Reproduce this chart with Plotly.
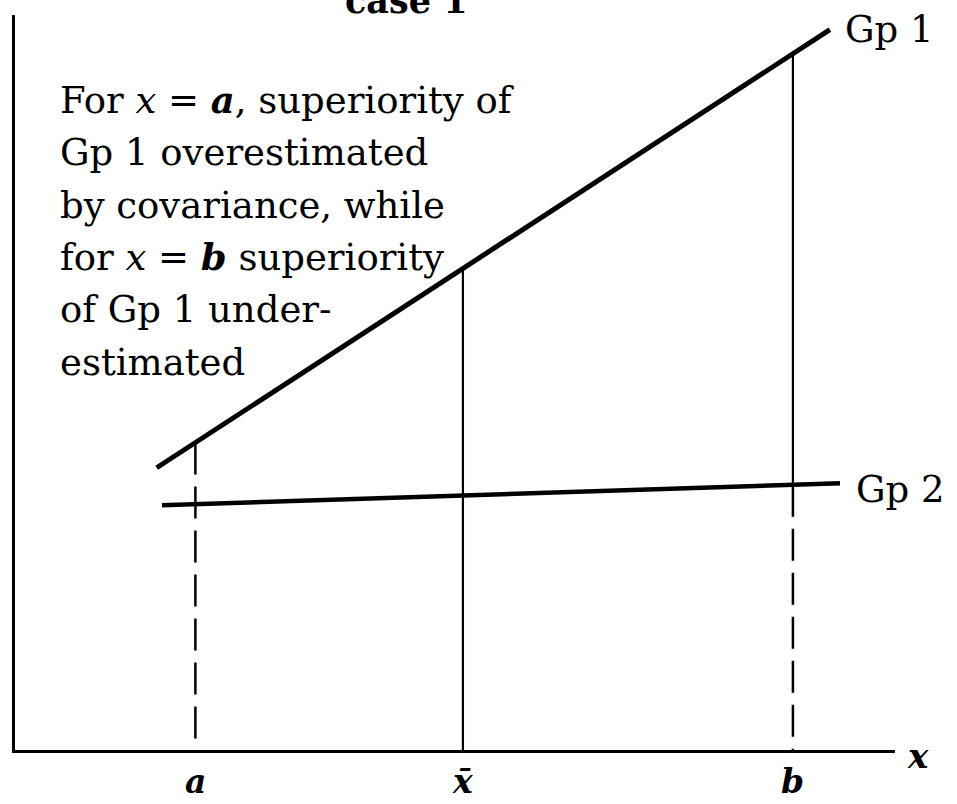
import numpy as np
import plotly.graph_objects as go

# Positions on the x axis
x_a = 2.05
x_bar = 5.09
x_b = 8.84

# Regression lines for the two groups (endpoints)
gp1_x = [1.61, 9.26]
gp1_y = [3.84, 9.80]
gp2_x = [1.67, 9.375]
gp2_y = [3.33, 3.63]

tick_labels = ["<i>a</i>", "<i>x\u0304</i>", "<i>b</i>"]

note_lines = [
    "For <i>x</i> = <b><i>a</i></b>, superiority of",
    "Gp 1 overestimated",
    "by covariance, while",
    "for <i>x</i> = <b><i>b</i></b> superiority",
    "of Gp 1 under-",
    "estimated",
]

SERIF = "DejaVu Serif"
BLACK = "black"
X_RANGE = [0, 10]
Y_RANGE = [0, 10]

def at(xs, ys, x):
    return float(np.interp(x, xs, ys))

def py(yv):
    # data y -> paper y (for labels placed outside the plotting range)
    return (yv - Y_RANGE[0]) / (Y_RANGE[1] - Y_RANGE[0])

def px(xv):
    return (xv - X_RANGE[0]) / (X_RANGE[1] - X_RANGE[0])

fig = go.Figure()

# Group lines
fig.add_trace(go.Scatter(x=gp1_x, y=gp1_y, mode="lines",
                         line=dict(color=BLACK, width=5), hoverinfo="skip"))
fig.add_trace(go.Scatter(x=gp2_x, y=gp2_y, mode="lines",
                         line=dict(color=BLACK, width=4.5), hoverinfo="skip"))

# Vertical at a: dashed from Gp 1 down to the axis
fig.add_trace(go.Scatter(x=[x_a, x_a], y=[at(gp1_x, gp1_y, x_a), 0], mode="lines",
                         line=dict(color=BLACK, width=2.5, dash="32px,12px"),
                         hoverinfo="skip"))
# Vertical at the mean: solid
fig.add_trace(go.Scatter(x=[x_bar, x_bar], y=[at(gp1_x, gp1_y, x_bar), 0], mode="lines",
                         line=dict(color=BLACK, width=2.2), hoverinfo="skip"))
# Vertical at b: solid between the groups, dashed below Gp 2
fig.add_trace(go.Scatter(x=[x_b, x_b], y=[at(gp1_x, gp1_y, x_b), at(gp2_x, gp2_y, x_b)],
                         mode="lines", line=dict(color=BLACK, width=2.2), hoverinfo="skip"))
fig.add_trace(go.Scatter(x=[x_b, x_b], y=[at(gp2_x, gp2_y, x_b), 0], mode="lines",
                         line=dict(color=BLACK, width=2.5, dash="32px,12px"),
                         hoverinfo="skip"))

annotations = []
# Explanatory note, one annotation per line
for i, line in enumerate(note_lines):
    annotations.append(dict(x=0.49, y=8.84 - i * 0.713, xref="x", yref="y",
                            text=line, showarrow=False, xanchor="left", yanchor="middle",
                            font=dict(family=SERIF, size=37, color=BLACK)))

# Group labels
annotations.append(dict(x=9.41, y=9.80, xref="x", yref="y", text="Gp 1", showarrow=False,
                        xanchor="left", yanchor="middle",
                        font=dict(family=SERIF, size=37, color=BLACK)))
annotations.append(dict(x=9.53, y=3.54, xref="x", yref="y", text="Gp 2", showarrow=False,
                        xanchor="left", yanchor="middle",
                        font=dict(family=SERIF, size=37, color=BLACK)))

# Axis label and tick labels (paper coordinates, outside the axis ranges)
annotations.append(dict(x=px(10.26), y=py(-0.08), xref="paper", yref="paper",
                        text="<b><i>x</i></b>", showarrow=False,
                        xanchor="center", yanchor="middle",
                        font=dict(family=SERIF, size=34, color=BLACK)))
for xv, lab in zip([x_a, x_bar, x_b], tick_labels):
    annotations.append(dict(x=xv, y=py(-0.72), xref="x", yref="paper", text="<b>" + lab + "</b>",
                            showarrow=False, xanchor="center", yanchor="bottom",
                            font=dict(family=SERIF, size=33, color=BLACK)))

# Heading
annotations.append(dict(x=4.45, y=1.0, xref="x", yref="paper", text="<b>case 1</b>",
                        showarrow=False, xanchor="center", yanchor="bottom", yshift=-8,
                        font=dict(family=SERIF, size=35, color=BLACK)))

fig.update_layout(
    width=957, height=804,
    margin=dict(l=15, r=62, t=15, b=54),
    paper_bgcolor="white", plot_bgcolor="white",
    showlegend=False,
    annotations=annotations,
    xaxis=dict(range=X_RANGE, showline=True, linecolor=BLACK, linewidth=3,
               showgrid=False, zeroline=False, showticklabels=False, ticks=""),
    yaxis=dict(range=Y_RANGE, showline=True, linecolor=BLACK, linewidth=3,
               showgrid=False, zeroline=False, showticklabels=False, ticks=""),
)

fig.write_html("out.html")
